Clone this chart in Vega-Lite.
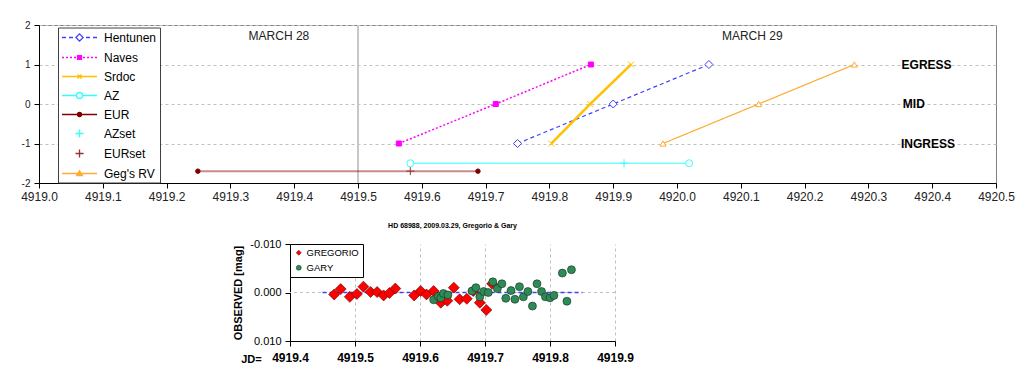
{
  "$schema": "https://vega.github.io/schema/vega-lite/v6.json",
  "background": "white",
  "padding": {"left": 8, "top": 19, "right": 0, "bottom": 0},
  "config": {
    "font": "Liberation Sans",
    "view": {"stroke": "#808080"}
  },
  "resolve": {
    "scale": {"shape": "independent", "fill": "independent", "stroke": "independent", "size": "independent", "strokeDash": "independent", "strokeWidth": "independent", "opacity": "independent"},
    "legend": {"shape": "independent", "fill": "independent", "stroke": "independent", "size": "independent"}
  },
  "datasets": {
    "top": [
      {"series": "Hentunen", "jd": 4919.750, "pos": -1},
      {"series": "Hentunen", "jd": 4919.900, "pos": 0},
      {"series": "Hentunen", "jd": 4920.050, "pos": 1},
      {"series": "Naves", "jd": 4919.564, "pos": -1},
      {"series": "Naves", "jd": 4919.716, "pos": 0},
      {"series": "Naves", "jd": 4919.865, "pos": 1},
      {"series": "Srdoc", "jd": 4919.803, "pos": -1},
      {"series": "Srdoc", "jd": 4919.864, "pos": 0},
      {"series": "Srdoc", "jd": 4919.928, "pos": 1},
      {"series": "AZ", "jd": 4919.582, "pos": -1.5},
      {"series": "AZ", "jd": 4920.019, "pos": -1.5},
      {"series": "EUR", "jd": 4919.249, "pos": -1.7},
      {"series": "EUR", "jd": 4919.688, "pos": -1.7},
      {"series": "AZset", "jd": 4919.917, "pos": -1.5},
      {"series": "EURset", "jd": 4919.582, "pos": -1.7},
      {"series": "Geg's RV", "jd": 4919.978, "pos": -1},
      {"series": "Geg's RV", "jd": 4920.128, "pos": 0},
      {"series": "Geg's RV", "jd": 4920.278, "pos": 1}
    ],
    "phot": [
      {"series": "GREGORIO", "jd": 4919.468, "mag": 0.0004},
      {"series": "GREGORIO", "jd": 4919.478, "mag": -0.0007},
      {"series": "GREGORIO", "jd": 4919.492, "mag": 0.0009},
      {"series": "GREGORIO", "jd": 4919.503, "mag": 0.0003},
      {"series": "GREGORIO", "jd": 4919.513, "mag": -0.0012},
      {"series": "GREGORIO", "jd": 4919.524, "mag": -0.0001},
      {"series": "GREGORIO", "jd": 4919.534, "mag": -0.0001},
      {"series": "GREGORIO", "jd": 4919.544, "mag": 0.0006},
      {"series": "GREGORIO", "jd": 4919.553, "mag": 0.0001},
      {"series": "GREGORIO", "jd": 4919.562, "mag": -0.0008},
      {"series": "GREGORIO", "jd": 4919.591, "mag": 0.0006},
      {"series": "GREGORIO", "jd": 4919.601, "mag": -0.0003},
      {"series": "GREGORIO", "jd": 4919.610, "mag": 0.0004},
      {"series": "GREGORIO", "jd": 4919.621, "mag": -0.0003},
      {"series": "GREGORIO", "jd": 4919.632, "mag": 0.0021},
      {"series": "GREGORIO", "jd": 4919.642, "mag": 0.0017},
      {"series": "GREGORIO", "jd": 4919.652, "mag": -0.0010},
      {"series": "GREGORIO", "jd": 4919.661, "mag": 0.0014},
      {"series": "GREGORIO", "jd": 4919.672, "mag": 0.0013},
      {"series": "GREGORIO", "jd": 4919.682, "mag": -0.0003},
      {"series": "GREGORIO", "jd": 4919.692, "mag": 0.0021},
      {"series": "GREGORIO", "jd": 4919.702, "mag": 0.0036},
      {"series": "GREGORIO", "jd": 4919.711, "mag": -0.0018},
      {"series": "GARY", "jd": 4919.621, "mag": 0.0015},
      {"series": "GARY", "jd": 4919.628, "mag": 0.0008},
      {"series": "GARY", "jd": 4919.632, "mag": 0.0011},
      {"series": "GARY", "jd": 4919.636, "mag": 0.0002},
      {"series": "GARY", "jd": 4919.643, "mag": 0.0005},
      {"series": "GARY", "jd": 4919.680, "mag": -0.0003},
      {"series": "GARY", "jd": 4919.686, "mag": -0.0010},
      {"series": "GARY", "jd": 4919.692, "mag": 0.0009},
      {"series": "GARY", "jd": 4919.698, "mag": -0.0002},
      {"series": "GARY", "jd": 4919.705, "mag": 0.0000},
      {"series": "GARY", "jd": 4919.712, "mag": -0.0022},
      {"series": "GARY", "jd": 4919.719, "mag": -0.0008},
      {"series": "GARY", "jd": 4919.726, "mag": -0.0018},
      {"series": "GARY", "jd": 4919.732, "mag": 0.0012},
      {"series": "GARY", "jd": 4919.740, "mag": -0.0004},
      {"series": "GARY", "jd": 4919.746, "mag": 0.0014},
      {"series": "GARY", "jd": 4919.753, "mag": -0.0012},
      {"series": "GARY", "jd": 4919.759, "mag": 0.0009},
      {"series": "GARY", "jd": 4919.766, "mag": -0.0002},
      {"series": "GARY", "jd": 4919.773, "mag": 0.0028},
      {"series": "GARY", "jd": 4919.780, "mag": -0.0018},
      {"series": "GARY", "jd": 4919.787, "mag": -0.0002},
      {"series": "GARY", "jd": 4919.793, "mag": 0.0009},
      {"series": "GARY", "jd": 4919.800, "mag": 0.0011},
      {"series": "GARY", "jd": 4919.806, "mag": 0.0006},
      {"series": "GARY", "jd": 4919.819, "mag": -0.0040},
      {"series": "GARY", "jd": 4919.826, "mag": 0.0018},
      {"series": "GARY", "jd": 4919.833, "mag": -0.0047}
    ]
  },
  "spacing": 13,
  "vconcat": [
    {
      "width": 957,
      "height": 158,
      "resolve": {"scale": {"shape": "independent", "stroke": "independent", "fill": "independent"}},
      "encoding": {
        "x": {"field": "jd", "type": "quantitative", "scale": {"domain": [4919, 4920.5], "nice": false, "zero": false},
          "axis": {"values": [4919.0, 4919.1, 4919.2, 4919.3, 4919.4, 4919.5, 4919.6, 4919.7, 4919.8, 4919.9, 4920.0, 4920.1, 4920.2, 4920.3, 4920.4, 4920.5], "format": ".1f", "labelFontSize": 12, "labelColor": "#222", "tickSize": 5, "tickColor": "#000", "domainColor": "#000", "labelPadding": 3, "grid": false, "labelFlush": false, "labelOverlap": false, "minExtent": 25, "maxExtent": 25, "title": null}}
      },
      "layer": [
        {
          "data": {"values": [{"jd": 4919.5}]},
          "mark": {"type": "rule", "stroke": "#c8c8c8", "strokeWidth": 2}
        },
        {
          "data": {"name": "top"},
          "transform": [{"filter": "datum.series !== 'AZset' && datum.series !== 'EURset'"}],
          "mark": {"type": "line"},
          "encoding": {
            "y": {"field": "pos", "type": "quantitative", "scale": {"domain": [-2, 2], "nice": false, "zero": false},
              "axis": {"values": [-2, -1, 0, 1, 2], "labelExpr": "datum.value < 0 ? '-' + abs(datum.value) : '' + datum.value", "labelFontSize": 10, "labelColor": "#222", "tickSize": 5, "tickColor": "#000", "domainColor": "#000", "labelPadding": 4, "grid": true, "gridDash": [3, 3], "gridColor": "#c0c0c0", "minExtent": 30, "maxExtent": 30, "labelFlush": false, "labelOverlap": false, "labelBound": false, "title": null}},
            "stroke": {"field": "series", "type": "nominal", "legend": null,
              "scale": {"domain": ["Geg's RV", "EURset", "AZset", "EUR", "AZ", "Srdoc", "Naves", "Hentunen"], "range": ["#ffaa33", "#993333", "#33ffff", "#800000", "#33ffff", "#ffc000", "#ff00ff", "#4040ff"]}},
            "strokeDash": {"field": "series", "type": "nominal", "legend": null,
              "scale": {"domain": ["Geg's RV", "EURset", "AZset", "EUR", "AZ", "Srdoc", "Naves", "Hentunen"], "range": [[1, 0], [1, 0], [1, 0], [1, 0], [1, 0], [1, 0], [2, 2], [4, 3]]}},
            "strokeWidth": {"field": "series", "type": "nominal", "legend": null,
              "scale": {"type": "ordinal", "domain": ["Geg's RV", "EURset", "AZset", "EUR", "AZ", "Srdoc", "Naves", "Hentunen"], "range": [1.2, 1, 1, 2, 1.2, 2.5, 1.5, 1.2]}},
            "opacity": {"field": "series", "type": "nominal", "legend": null,
              "scale": {"type": "ordinal", "domain": ["Geg's RV", "EURset", "AZset", "EUR", "AZ", "Srdoc", "Naves", "Hentunen"], "range": [1, 1, 1, 0.45, 1, 1, 1, 1]}}
          }
        },
        {
          "data": {"name": "top"},
          "mark": {"type": "point", "strokeWidth": 1, "opacity": 1},
          "encoding": {
            "y": {"field": "pos", "type": "quantitative", "scale": {"domain": [-2, 2], "nice": false, "zero": false},
              "axis": {"values": [-2, -1, 0, 1, 2], "labelExpr": "datum.value < 0 ? '-' + abs(datum.value) : '' + datum.value", "labelFontSize": 10, "labelColor": "#222", "tickSize": 5, "tickColor": "#000", "domainColor": "#000", "labelPadding": 4, "grid": true, "gridDash": [3, 3], "gridColor": "#c0c0c0", "minExtent": 30, "maxExtent": 30, "labelFlush": false, "labelOverlap": false, "labelBound": false, "title": null}},
            "stroke": {"field": "series", "type": "nominal", "legend": null,
              "scale": {"domain": ["Geg's RV", "EURset", "AZset", "EUR", "AZ", "Srdoc", "Naves", "Hentunen"], "range": ["#ffaa33", "#993333", "#33ffff", "#800000", "#33ffff", "#ffc000", "#ff00ff", "#4040ff"]}},
            "fill": {"field": "series", "type": "nominal", "legend": null,
              "scale": {"domain": ["Geg's RV", "EURset", "AZset", "EUR", "AZ", "Srdoc", "Naves", "Hentunen"], "range": ["white", "transparent", "transparent", "#800000", "white", "transparent", "#ff00ff", "white"]}},
            "size": {"field": "series", "type": "nominal", "legend": null,
              "scale": {"type": "ordinal", "domain": ["Geg's RV", "EURset", "AZset", "EUR", "AZ", "Srdoc", "Naves", "Hentunen"], "range": [36, 64, 64, 20, 49, 36, 25, 64]}},
            "shape": {"field": "series", "type": "nominal", "legend": null,
              "scale": {"domain": ["Geg's RV", "EURset", "AZset", "EUR", "AZ", "Srdoc", "Naves", "Hentunen"], "range": ["triangle-up", "M-1,0H1M0,-1V1", "M-1,0H1M0,-1V1", "circle", "circle", "M-1,-1L1,1M-1,1L1,-1", "square", "diamond"]}}
          }
        },
        {
          "data": {"name": "top"},
          "mark": {"type": "point", "opacity": 0},
          "encoding": {
            "y": {"field": "pos", "type": "quantitative", "scale": {"domain": [-2, 2], "nice": false, "zero": false},
              "axis": {"values": [-2, -1, 0, 1, 2], "labelExpr": "datum.value < 0 ? '-' + abs(datum.value) : '' + datum.value", "labelFontSize": 10, "labelColor": "#222", "tickSize": 5, "tickColor": "#000", "domainColor": "#000", "labelPadding": 4, "grid": true, "gridDash": [3, 3], "gridColor": "#c0c0c0", "minExtent": 30, "maxExtent": 30, "labelFlush": false, "labelOverlap": false, "labelBound": false, "title": null}},
            "stroke": {"field": "series", "type": "nominal",
              "scale": {"domain": ["Hentunen", "Naves", "Srdoc", "AZ", "EUR", "AZset", "EURset", "Geg's RV"], "range": ["#4040ff", "#ff00ff", "#ffc000", "#33ffff", "#800000", "#33ffff", "#993333", "#ffaa33"]}},
            "fill": {"field": "series", "type": "nominal",
              "scale": {"domain": ["Hentunen", "Naves", "Srdoc", "AZ", "EUR", "AZset", "EURset", "Geg's RV"], "range": ["white", "#ff00ff", "transparent", "white", "#800000", "transparent", "transparent", "#ffaa33"]}},
            "shape": {"field": "series", "type": "nominal",
              "scale": {"domain": ["Hentunen", "Naves", "Srdoc", "AZ", "EUR", "AZset", "EURset", "Geg's RV"], "range": ["M-1,0H-0.33M0.17,0H0.84M3,0H3.67M4.17,0H4.83M1.92,-0.6L2.52,0L1.92,0.6L1.32,0Z", "M-1,0H-0.67M-0.33,0H0M0.33,0H0.67M1,0H1.33M2.5,0H2.83M3.17,0H3.5M3.83,0H4.17M4.5,0H4.83M1.6,-0.32H2.24V0.32H1.6Z", "M-1,0H4.83M1.59,-0.33L2.25,0.33M1.59,0.33L2.25,-0.33", "M-1,0H1.42M2.42,0H4.83M2.42,0A0.5,0.5,0,1,1,1.42,0A0.5,0.5,0,1,1,2.42,0Z", "M-1,0H4.83M2.25,0A0.33,0.33,0,1,1,1.59,0A0.33,0.33,0,1,1,2.25,0Z", "M1.25,0H2.59M1.92,-0.67V0.67", "M1.25,0H2.59M1.92,-0.67V0.67", "M-1,0H4.83M1.92,-0.45L2.4,0.35L1.44,0.35Z"]},
              "legend": {
                "orient": "none", "legendX": 19, "legendY": 2.5, "title": null,
                "strokeColor": "#404040", "fillColor": "white", "padding": 3,
                "symbolSize": 144, "symbolOpacity": 1, "symbolStrokeWidth": 1.3,
                "labelFontSize": 12, "labelColor": "#000", "labelOffset": 29, "rowPadding": 6
              }
            }
          }
        },
        {
          "data": {"values": [{"label": "MARCH 28", "jd": 4919.376, "pos": 1.73}, {"label": "MARCH 29", "jd": 4920.118, "pos": 1.73}]},
          "mark": {"type": "text", "fontSize": 12, "color": "#222", "align": "center", "baseline": "middle"},
          "encoding": {
            "y": {"field": "pos", "type": "quantitative", "scale": {"domain": [-2, 2], "nice": false, "zero": false},
              "axis": {"values": [-2, -1, 0, 1, 2], "labelExpr": "datum.value < 0 ? '-' + abs(datum.value) : '' + datum.value", "labelFontSize": 10, "labelColor": "#222", "tickSize": 5, "tickColor": "#000", "domainColor": "#000", "labelPadding": 4, "grid": true, "gridDash": [3, 3], "gridColor": "#c0c0c0", "minExtent": 30, "maxExtent": 30, "labelFlush": false, "labelOverlap": false, "labelBound": false, "title": null}},
            "text": {"field": "label"}
          }
        },
        {
          "data": {"values": [{"label": "EGRESS", "jd": 4920.352, "pos": 1}, {"label": "MID", "jd": 4920.354, "pos": 0}, {"label": "INGRESS", "jd": 4920.351, "pos": -1}]},
          "mark": {"type": "text", "fontSize": 12, "fontWeight": "bold", "color": "#000", "align": "left", "baseline": "middle"},
          "encoding": {
            "y": {"field": "pos", "type": "quantitative", "scale": {"domain": [-2, 2], "nice": false, "zero": false},
              "axis": {"values": [-2, -1, 0, 1, 2], "labelExpr": "datum.value < 0 ? '-' + abs(datum.value) : '' + datum.value", "labelFontSize": 10, "labelColor": "#222", "tickSize": 5, "tickColor": "#000", "domainColor": "#000", "labelPadding": 4, "grid": true, "gridDash": [3, 3], "gridColor": "#c0c0c0", "minExtent": 30, "maxExtent": 30, "labelFlush": false, "labelOverlap": false, "labelBound": false, "title": null}},
            "text": {"field": "label"}
          }
        }
      ]
    },
    {
      "spacing": 0,
      "resolve": {
        "scale": {"shape": "independent", "fill": "independent", "stroke": "independent", "size": "independent"},
        "legend": {"shape": "independent", "fill": "independent", "stroke": "independent", "size": "independent"}
      },
      "hconcat": [
        {
          "width": 193,
          "height": 10,
          "view": {"stroke": null},
          "data": {"values": [{}]},
          "mark": {"type": "text", "text": ""},
          "encoding": {}
        },
        {
          "width": 325,
          "height": 97,
          "view": {"stroke": null},
          "title": {"text": "HD 68988, 2009.03.29, Gregorio & Gary", "fontSize": 7, "fontWeight": "bold", "offset": 9, "anchor": "middle", "color": "#000"},
          "layer": [
            {
              "data": {"values": [{"mag": 0}]},
              "mark": {"type": "rule", "color": "#c0c0c0", "strokeDash": [3, 3], "strokeWidth": 1},
              "encoding": {
                "y": {"field": "mag", "type": "quantitative", "scale": {"domain": [-0.01, 0.01], "reverse": true, "nice": false, "zero": false},
                  "axis": {"values": [-0.01, 0, 0.01], "labelExpr": "datum.value < 0 ? '-' + format(abs(datum.value), '.3f') : format(datum.value, '.3f')", "labelFontSize": 11, "labelColor": "#000", "tickSize": 5, "labelPadding": 4, "grid": false, "title": "OBSERVED [mag]", "titleFontSize": 11, "titleFontWeight": "bold", "titleColor": "#000", "titlePadding": 7, "minExtent": 40, "maxExtent": 40, "labelFlush": false, "labelOverlap": false, "domainColor": "#000", "tickColor": "#000"}}
              }
            },
            {
              "data": {"values": [{"start": 4919.45, "end": 4919.85, "mag": 0}]},
              "mark": {"type": "rule", "color": "#4040ff", "strokeDash": [4, 3], "strokeWidth": 1.5},
              "encoding": {
                "x": {"field": "start", "type": "quantitative", "scale": {"domain": [4919.4, 4919.9], "nice": false, "zero": false},
                  "axis": {"values": [4919.4, 4919.5, 4919.6, 4919.7, 4919.8, 4919.9], "format": ".1f", "labelFontSize": 12, "labelFontWeight": "bold", "labelColor": "#000", "tickSize": 5, "labelPadding": 6, "grid": true, "gridDash": [3, 3], "gridColor": "#c0c0c0", "labelFlush": false, "labelOverlap": false, "title": "JD=", "titleFontSize": 11, "titleFontWeight": "bold", "titleColor": "#000", "titleX": -39, "titleY": 18, "titleAlign": "center", "titleBaseline": "middle", "domainColor": "#000", "tickColor": "#000"}},
                "x2": {"field": "end"},
                "y": {"field": "mag", "type": "quantitative", "scale": {"domain": [-0.01, 0.01], "reverse": true, "nice": false, "zero": false}}
              }
            },
            {
              "data": {"name": "phot"},
              "mark": {"type": "point", "strokeWidth": 0.6, "opacity": 1},
              "encoding": {
                "x": {"field": "jd", "type": "quantitative", "scale": {"domain": [4919.4, 4919.9], "nice": false, "zero": false}},
                "y": {"field": "mag", "type": "quantitative", "scale": {"domain": [-0.01, 0.01], "reverse": true, "nice": false, "zero": false}},
                "shape": {"field": "series", "type": "nominal", "scale": {"domain": ["GREGORIO", "GARY"], "range": ["diamond", "circle"]},
                  "legend": {"orient": "none", "legendX": 0, "legendY": 0, "title": null, "strokeColor": "#000", "fillColor": "white", "padding": 4, "labelFontSize": 9.5, "labelColor": "#000", "symbolSize": 25, "symbolStrokeWidth": 0.5, "rowPadding": 4, "labelOffset": 3}},
                "fill": {"field": "series", "type": "nominal", "scale": {"domain": ["GREGORIO", "GARY"], "range": ["#ff0000", "#2e8b57"]}},
                "stroke": {"field": "series", "type": "nominal", "scale": {"domain": ["GREGORIO", "GARY"], "range": ["#5a0000", "#10301f"]}},
                "size": {"field": "series", "type": "nominal", "legend": null, "scale": {"type": "ordinal", "domain": ["GARY", "GREGORIO"], "range": [64, 121]}}
              }
            }
          ]
        }
      ]
    }
  ]
}
